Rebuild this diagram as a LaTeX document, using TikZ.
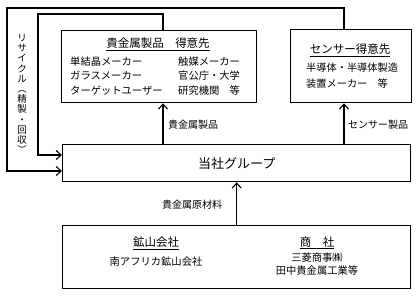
\documentclass[tikz,border=0pt]{standalone}
\usepackage{fontspec}
\setmainfont{Noto Sans CJK JP}
\usetikzlibrary{arrows.meta}
\begin{document}
\begin{tikzpicture}[x=1pt,y=-1pt,
  frame/.style={draw, line width=1.3pt, inner sep=0pt, anchor=north west},
  conn/.style={line width=1.1pt},
  arr/.style={conn, -{Straight Barb[length=5pt,width=9pt]}},
  plain/.style={conn},
  body/.style={inner sep=0pt, font=\fontsize{10.3}{14.5}\selectfont},
  ttl/.style={inner sep=0pt, font=\fontsize{11.5}{13}\selectfont},
  lbl/.style={inner sep=0pt, font=\fontsize{10}{12}\selectfont}
]
\useasboundingbox (0,0) rectangle (418,295);
% boxes
\node[frame, minimum width=195pt, minimum height=72pt] (prod) at (61,30) {};
\node[frame, minimum width=121pt, minimum height=73pt] (sens) at (290,29) {};
\node[frame, minimum width=348pt, minimum height=37pt] (grp) at (62,144) {};
\node[frame, minimum width=348pt, minimum height=63pt] (src) at (62,225) {};
% product customers
\node[ttl] (prodT) at (158,44) {\underline{貴金属製品　得意先}};
\node[body, anchor=west, align=left] (prodL) at (70,76) {単結晶メーカー\\ガラスメーカー\\ターゲットユーザー};
\node[body, anchor=west, align=left] (prodR) at (178,76) {触媒メーカー\\官公庁・大学\\研究機関　等};
% sensor customers
\node[ttl] (sensT) at (350,50) {\underline{センサー得意先}};
\node[body, anchor=west, align=left, font=\fontsize{10.2}{16}\selectfont] (sensB) at (306,76) {半導体・半導体製造\\装置メーカー　等};
% group
\node[inner sep=0pt, font=\fontsize{13}{15}\selectfont] (grpT) at (grp.center) {当社グループ};
% sources
\node[ttl] (mineT) at (156,243) {\underline{鉱山会社}};
\node[body] (mineB) at (156,262) {南アフリカ鉱山会社};
\node[ttl] (tradeT) at (317,243) {\underline{商　社}};
\node[body, align=center, font=\fontsize{10.3}{13}\selectfont] (tradeB) at (317,264.5) {三菱商事㈱\\田中貴金属工業等};
% recycle label
\node[inner sep=0pt, align=center, font=\fontsize{9.5}{10.2}\selectfont] (rec) at (22,94) {リ\\サ\\イ\\ク\\ル\\︵\\精\\製\\・\\回\\収\\︶};
% connector labels
\node[lbl, anchor=west] (l1) at (168,125) {貴金属製品};
\node[lbl, anchor=west] (l2) at (348,125) {センサー製品};
\node[lbl] (l3) at (192,205) {貴金属原材料};
% coordinates
\coordinate (pa) at (163,0);
\coordinate (sa) at (344,0);
\coordinate (in1) at (38,14);
\coordinate (out1) at (7,8);
\coordinate (yi) at (0,155);
\coordinate (yo) at (0,171);
% connectors
\draw[arr] (grp.north -| pa) -- (prod.south -| pa);
\draw[arr] (grp.north -| sa) -- (sens.south -| sa);
\draw[arr] (src.north) -- (grp.south);
\draw[arr] (prod.north -| pa) |- (in1) |- (grp.west |- yi);
\draw[arr] (sens.north -| sa) |- (out1) |- (grp.west |- yo);
\end{tikzpicture}
\end{document}
